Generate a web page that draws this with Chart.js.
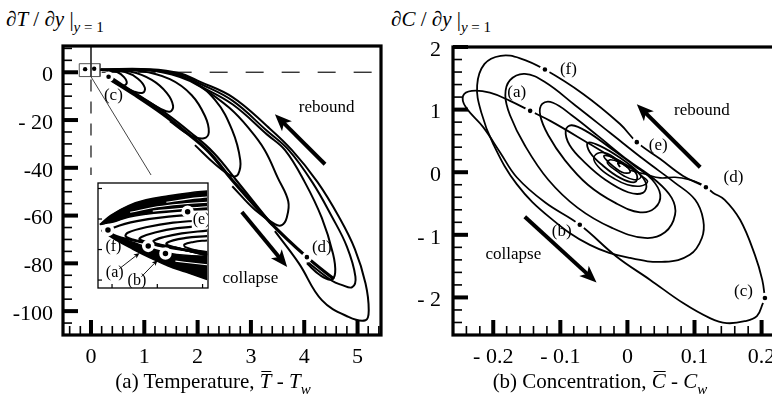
<!DOCTYPE html>
<html>
<head>
<meta charset="utf-8">
<script src="https://cdn.jsdelivr.net/npm/chart.js@4.4.0/dist/chart.umd.min.js"></script>
<style>
  html, body { margin: 0; padding: 0; background: #fff; }
  body { width: 772px; height: 398px; position: relative; overflow: hidden;
         font-family: "Liberation Serif", "Times New Roman", serif; color: #000; }
  .pane { position: absolute; }
  #tempPane { left: 0; top: 0; width: 390px; height: 398px; }
  #concPane { left: 386px; top: 0; width: 400px; height: 398px; }
  #insetPane { left: 90px; top: 175px; width: 126px; height: 121px; background: #fff; }
  .ylab { position: absolute; top: 7px; font-size: 21px; white-space: nowrap; }
  .cap { position: absolute; top: 369px; font-size: 21px; line-height: 24px; white-space: nowrap; transform: translateX(-50%); }
  sub { font-size: 15px; vertical-align: -6px; line-height: 0; }
  .ov { position: relative; }
  .ov::before { content: ''; position: absolute; left: 2px; right: 0; top: 2px; border-top: 1.4px solid #000; }
</style>
</head>
<body>
<div class="ylab" style="left:6px">&#8706;<i>T</i> / &#8706;<i>y</i> |<sub><i>y</i> = 1</sub></div>
<div class="ylab" style="left:391px">&#8706;<i>C</i> / &#8706;<i>y</i> |<sub><i>y</i> = 1</sub></div>
<div class="pane" id="tempPane"><canvas id="tempChart"></canvas></div>
<div class="pane" id="concPane"><canvas id="concChart"></canvas></div>
<div class="pane" id="insetPane"><canvas id="insetChart"></canvas></div>
<div class="cap" style="left:213px">(a) Temperature, <i class="ov">T</i> - <i>T</i><sub><i>w</i></sub></div>
<div class="cap" style="left:600px">(b) Concentration, <i class="ov">C</i> - <i>C</i><sub><i>w</i></sub></div>
<script>
// axis ticks
const tempXTicks = [0, 1, 2, 3, 4, 5];
const tempXLabels = ['0', '1', '2', '3', '4', '5'];
const tempYTicks = [0, -20, -40, -60, -80, -100];
const tempYLabels = ['0', '- 20', '-40', '-60', '-80', '-100'];
const concXTicks = [-0.2, -0.1, 0, 0.1, 0.2];
const concXLabels = ['- 0.2', '- 0.1', '0', '0.1', '0.2'];
const concYTicks = [2, 1, 0, -1, -2];
const concYLabels = ['2', '1', '0', '- 1', '- 2'];

// (a) temperature: wall gradient vs mean temperature, loops growing outwards
const tempLower = [[0.30, -2.1], [0.83, -9.6], [1.33, -17.2], [1.76, -24.7], [2.20, -33.1], [2.65, -45.2], [3.36, -62.8], [4.05, -77.4], [4.56, -86.6]];
const tempLower2 = [[0.40, -2.5], [0.92, -10.0], [1.43, -17.6], [1.86, -25.1], [2.29, -33.5], [2.74, -45.6], [3.40, -64.0]];
const loopA = [[0.30, 0.8], [0.49, 0.1], [0.62, -2.0], [0.67, -4.6], [0.58, -5.6], [0.45, -4.3], [0.30, -2.1]];
const loopB = [[0.30, 0.8], [0.64, 0.1], [0.88, -2.7], [1.01, -6.5], [0.97, -8.6], [0.80, -8.0], [0.60, -5.8], [0.30, -2.1]];
const loopC = [[0.25, 0.9], [0.75, 0.2], [1.14, -3.2], [1.42, -8.6], [1.54, -14.0], [1.48, -16.5], [1.30, -15.2], [1.05, -12.0], [0.60, -5.8]];
const loopD = [[0.20, 0.9], [0.92, 0.5], [1.48, -2.9], [1.89, -9.6], [2.14, -18.4], [2.21, -25.1], [2.12, -27.6], [1.86, -26.4], [1.48, -20.5]];
const loopE = [[0.18, 1.0], [1.11, 0.8], [1.86, -3.3], [2.33, -11.7], [2.65, -24.3], [2.80, -36.8], [2.76, -42.7], [2.65, -43.5], [2.33, -38.5], [1.95, -30.5]];
const loopF = [[0.18, 1.0], [1.11, 0.7], [1.67, -2.0], [2.05, -6.0], [2.60, -15.0], [2.98, -24.0], [3.26, -32.6], [3.50, -44.0], [3.70, -54.0], [3.67, -61.0], [3.58, -64.0], [3.45, -63.6], [3.08, -57.7], [2.65, -47.7]];
const loopG = [[0.18, 1.1], [1.11, 0.9], [1.67, -1.3], [2.05, -5.8], [2.66, -13.5], [3.30, -26.0], [3.64, -32.6], [4.01, -46.0], [4.33, -61.0], [4.54, -76.0], [4.58, -84.0], [4.50, -86.8], [4.30, -85.0], [4.05, -80.0]];
const loopH = [[0.18, 1.2], [1.11, 1.1], [1.67, -0.8], [2.05, -4.8], [2.66, -12.0], [3.30, -24.5], [3.71, -32.6], [4.15, -46.0], [4.52, -60.5], [4.80, -73.0], [4.96, -85.6], [4.90, -90.0], [4.70, -89.0], [4.52, -87.3], [4.02, -78.7]];
const loopI = [[0.18, 1.3], [1.11, 1.3], [1.67, -0.4], [2.05, -4.0], [2.66, -10.5], [3.30, -22.5], [3.77, -32.6], [4.25, -46.0], [4.65, -60.5], [4.95, -74.0], [5.15, -88.4], [5.21, -99.6], [5.15, -103.8], [4.83, -102.4], [4.33, -95.4], [3.90, -80.0], [3.45, -66.5]];
const tempZeroLine = [[0.2, 0], [5.44, 0]];
const tempAxisSolid = [[0, 11], [0, -1.8]];
const tempAxisDash = [[0, -3], [0, -43.5]];
const zoomBox = [[-0.22, 3.6], [0.17, 3.6], [0.17, -1.8], [-0.22, -1.8], [-0.22, 3.6]];
const zoomLeader = [[-0.01, -1.5], [1.14, -43.5]];
const tempMarks = [[0.33, -1.9], [4.05, -77.4]];
const zoomDots = [[-0.11, 1.3], [0.06, 1.5]];

// inset: close-up of the start of the run
const insetXTicks = [0, 1, 2];
const insetYTicks = [1, 0, -1, -2];
const bandTop = [[-0.27, -0.18], [-0.03, 0.12], [0.36, 0.44], [0.75, 0.63], [1.25, 0.76], [1.73, 0.86], [2.10, 0.92]];
const bandBottom = [[-0.27, -0.18], [0.03, -0.10], [0.36, 0.06], [0.75, 0.16], [1.25, 0.23], [1.73, 0.28], [2.10, 0.31]];
const bandGap1 = [[0.40, 0.22], [1.00, 0.40], [1.60, 0.50], [2.10, 0.55]];
const bandGap2 = [[0.90, 0.26], [1.50, 0.34], [2.10, 0.40]];
const bandGap3 = [[1.20, 0.55], [1.70, 0.66], [2.10, 0.72]];
const wedgeTop = [[-0.23, -0.36], [0.06, -0.56], [0.46, -0.76], [0.85, -0.96], [1.24, -1.11], [1.63, -1.19], [2.10, -1.22]];
const wedgeBottom = [[-0.23, -0.38], [0.06, -0.67], [0.46, -0.99], [0.85, -1.28], [1.24, -1.54], [1.63, -1.74], [2.10, -1.98]];
const wedgeGap = [[1.40, -1.38], [1.80, -1.45], [2.10, -1.50]];
const insetC1 = [[2.10, 0.16], [1.25, 0.08], [0.55, -0.07], [0.06, -0.27], [-0.05, -0.41], [0.10, -0.56], [0.65, -0.76], [1.44, -0.96], [2.10, -1.08]];
const insetC2 = [[2.10, -0.04], [1.35, -0.12], [0.75, -0.27], [0.36, -0.44], [0.30, -0.56], [0.46, -0.67], [1.05, -0.88], [2.10, -1.14]];
const insetC3 = [[2.10, -0.21], [1.44, -0.30], [0.95, -0.44], [0.65, -0.59], [0.61, -0.67], [0.85, -0.79], [1.44, -0.96], [2.10, -1.16]];
const insetC4 = [[2.10, -0.38], [1.54, -0.47], [1.15, -0.59], [0.91, -0.73], [1.01, -0.82], [1.54, -0.99], [2.10, -1.19]];
const insetC5 = [[2.10, -0.56], [1.63, -0.62], [1.35, -0.70], [1.20, -0.82], [1.40, -0.93], [2.10, -1.19]];
const insetC6 = [[2.10, -0.70], [1.80, -0.75], [1.60, -0.83], [1.62, -0.92], [2.10, -1.12]];
const insetMarks = [[-0.09, -0.36], [0.80, -0.88], [1.18, -1.13], [1.67, 0.24]];

// (b) concentration: one trajectory spiralling into the origin
const concOut = [[-0.014, 0.18], [-0.056, 0.45], [-0.115, 0.82], [-0.145, 0.98], [-0.175, 1.14], [-0.205, 1.27], [-0.232, 1.30], [-0.245, 1.22], [-0.241, 1.04], [-0.215, 0.72], [-0.190, 0.32], [-0.165, -0.08], [-0.123, -0.48], [-0.071, -0.84], [-0.016, -1.35], [0.034, -1.72], [0.083, -2.09], [0.123, -2.33], [0.148, -2.41], [0.175, -2.38], [0.193, -2.30], [0.202, -2.09], [0.205, -2.01]];
const concBack = [[0.205, -2.01], [0.201, -1.72], [0.190, -1.32], [0.168, -0.76], [0.145, -0.44], [0.128, -0.33], [0.117, -0.24], [0.083, -0.06], [0.049, 0.21], [0.014, 0.48], [-0.011, 0.77], [-0.066, 1.25], [-0.123, 1.64], [-0.160, 1.82], [-0.189, 1.86], [-0.213, 1.73], [-0.224, 1.39], [-0.218, 0.96], [-0.200, 0.45], [-0.165, -0.19], [-0.115, -0.73], [-0.056, -1.16], [0.004, -1.37], [0.056, -1.43], [0.093, -1.32], [0.111, -1.05], [0.113, -0.76], [0.101, -0.44], [0.071, -0.17], [0.026, 0.19], [-0.026, 0.63], [-0.078, 1.07], [-0.123, 1.44], [-0.153, 1.57], [-0.175, 1.47], [-0.182, 1.23], [-0.175, 0.91], [-0.153, 0.43], [-0.118, -0.12], [-0.074, -0.57], [-0.023, -0.89], [0.026, -1.05], [0.056, -0.96], [0.071, -0.68], [0.066, -0.41], [0.041, -0.12], [0.001, 0.19], [-0.044, 0.58], [-0.083, 0.91], [-0.111, 1.11], [-0.127, 1.09], [-0.130, 0.91], [-0.118, 0.59], [-0.093, 0.19], [-0.059, -0.20], [-0.018, -0.49], [0.019, -0.64], [0.041, -0.57], [0.049, -0.36], [0.037, -0.12], [0.011, 0.10], [-0.026, 0.39], [-0.059, 0.64], [-0.083, 0.75], [-0.092, 0.67], [-0.086, 0.43], [-0.063, 0.15], [-0.033, -0.12], [0.001, -0.32], [0.023, -0.33], [0.028, -0.19], [0.016, 0.00], [-0.011, 0.23], [-0.041, 0.42], [-0.059, 0.47], [-0.056, 0.32], [-0.036, 0.10], [-0.011, -0.09], [0.011, -0.16], [0.014, -0.04], [0.001, 0.10], [-0.023, 0.24], [-0.035, 0.26], [-0.027, 0.15], [-0.008, 0.00], [0.004, 0.00], [-0.002, 0.10], [-0.014, 0.15], [-0.011, 0.08]];
const concCore = [[0.02, -0.05], [0.03, -0.15], [0.02, -0.22], [0.0, -0.20], [-0.02, -0.10], [-0.04, 0.05], [-0.05, 0.20], [-0.045, 0.30], [-0.03, 0.30], [-0.015, 0.20], [0.0, 0.10], [0.015, 0.0], [0.02, -0.08], [0.01, -0.12], [-0.005, -0.06], [-0.02, 0.05], [-0.03, 0.15], [-0.025, 0.20], [-0.01, 0.15], [0.0, 0.08]];
const concTail = [[0.004, 0.03], [0.026, -0.03], [0.049, -0.09], [0.071, -0.08], [0.093, -0.12], [0.108, -0.18], [0.117, -0.24]];
const concMarks = [[-0.145, 0.98], [-0.071, -0.84], [0.205, -2.01], [0.117, -0.24], [0.014, 0.48], [-0.123, 1.64]];

const pts = arr => arr.map(([x, y]) => ({ x, y }));
const serif = '"Liberation Serif", "Times New Roman", serif';

function curve(arr, w, extra) {
  return Object.assign({ data: pts(arr), borderColor: '#000', borderWidth: w, pointRadius: 0,
    tension: 0.4, fill: false, order: 2 }, extra || {});
}
function marks(arr, r, ring) {
  return { data: pts(arr), showLine: false, pointRadius: r, pointBackgroundColor: '#000',
    pointBorderColor: '#fff', pointBorderWidth: ring, order: 0 };
}
function axis(min, max, ticks, labels, size, pad, dir, shift) {
  return {
    type: 'linear', min, max,
    grid: { display: false, drawTicks: false },
    border: { display: false },
    afterBuildTicks: s => { s.ticks = ticks.map(v => ({ value: v })); },
    afterFit: s => { if (dir === 'x') s.height = size; else s.width = size; },
    ticks: { padding: pad, autoSkip: false, maxRotation: 0, color: '#000', labelOffset: shift || 0,
      font: { family: serif, size: 22 }, callback: (v, i) => labels[i] }
  };
}

// frame, inward tick marks, arrows and point labels
const frameTicks = {
  id: 'frameTicks',
  afterDatasetsDraw(chart, args, o) {
    const { ctx, chartArea: a } = chart;
    const xs = chart.scales.x, ys = chart.scales.y;
    ctx.save();
    ctx.fillStyle = '#000';
    ctx.strokeStyle = '#000';
    const xMajor = o.xTicks, yMajor = o.yTicks;
    const isMajor = (list, v) => list.some(t => Math.abs(t - v) < 1e-6);
    const minor = (sc, step, fn, list) => {
      if (!step) return;
      for (let k = Math.ceil(sc.min / step - 1e-9); k * step <= sc.max + 1e-9; k++) {
        const v = k * step;
        if (!isMajor(list, v)) fn(sc.getPixelForValue(v));
      }
    };
    xMajor.forEach(v => { const p = xs.getPixelForValue(v); ctx.fillRect(p - o.majorW / 2, a.bottom - o.majorLen, o.majorW, o.majorLen); });
    yMajor.forEach(v => { const p = ys.getPixelForValue(v); ctx.fillRect(a.left, p - o.majorW / 2, o.majorLen, o.majorW); });
    minor(xs, o.xMinor, p => ctx.fillRect(p - o.minorW / 2, a.bottom - o.minorLen, o.minorW, o.minorLen), xMajor);
    minor(ys, o.yMinor, p => ctx.fillRect(a.left, p - o.minorW / 2, o.minorLen, o.minorW), yMajor);
    ctx.lineWidth = o.frame;
    ctx.strokeRect(a.left, a.top, a.width, a.height);

    ctx.beginPath();
    ctx.rect(a.left, a.top, a.width, a.height);
    ctx.clip();
    (o.arrows || []).forEach(ar => {
      const x1 = xs.getPixelForValue(ar.from[0]), y1 = ys.getPixelForValue(ar.from[1]);
      const x2 = xs.getPixelForValue(ar.to[0]), y2 = ys.getPixelForValue(ar.to[1]);
      const t = Math.atan2(y2 - y1, x2 - x1), c = Math.cos(t), s = Math.sin(t);
      const bx = x2 - ar.head * c, by = y2 - ar.head * s;
      ctx.lineWidth = ar.width;
      ctx.beginPath(); ctx.moveTo(x1, y1); ctx.lineTo(x2 - ar.head * 0.7 * c, y2 - ar.head * 0.7 * s); ctx.stroke();
      ctx.beginPath();
      ctx.moveTo(x2, y2);
      ctx.lineTo(bx + ar.half * s, by - ar.half * c);
      ctx.lineTo(x2 - ar.head * 0.75 * c, y2 - ar.head * 0.75 * s);
      ctx.lineTo(bx - ar.half * s, by + ar.half * c);
      ctx.closePath(); ctx.fill();
    });
    (o.labels || []).forEach(l => {
      const px = xs.getPixelForValue(l.at[0]), py = ys.getPixelForValue(l.at[1]);
      ctx.font = `${l.size}px ${serif}`;
      ctx.textAlign = 'center';
      ctx.textBaseline = 'middle';
      if (l.bg) {
        const w = ctx.measureText(l.text).width;
        ctx.fillStyle = '#fff';
        ctx.fillRect(px - w / 2 - 1, py - l.size / 2 - 1, w + 2, l.size + 2);
      }
      ctx.fillStyle = '#000';
      ctx.fillText(l.text, px, py);
    });
    ctx.restore();
  }
};

const base = {
  responsive: true, maintainAspectRatio: false, animation: false, events: [],
  plugins: { legend: { display: false }, tooltip: { enabled: false } }
};

new Chart(document.getElementById('tempChart'), {
  type: 'line',
  data: { datasets: [
    marks(tempMarks, 3.8, 3),
    { data: pts(zoomDots), showLine: false, pointRadius: 2.2, pointBackgroundColor: '#000', pointBorderWidth: 0, order: 0 },
    curve(tempLower, 3.2), curve(tempLower2, 2.2),
    curve(loopA, 2), curve(loopB, 2), curve(loopC, 2), curve(loopD, 2), curve(loopE, 2),
    curve(loopF, 2), curve(loopG, 2), curve(loopH, 2), curve(loopI, 2),
    curve(tempZeroLine, 1.4, { tension: 0, borderColor: '#333', borderDash: [18, 18], order: 3 }),
    curve(tempAxisSolid, 1, { tension: 0, borderColor: '#333', order: 3 }),
    curve(tempAxisDash, 1.4, { tension: 0, borderColor: '#333', borderDash: [12, 10], order: 3 }),
    curve(zoomBox, 1, { tension: 0, borderColor: '#555', order: 3 }),
    curve(zoomLeader, 1, { tension: 0, borderColor: '#444', order: 3 })
  ] },
  options: Object.assign({}, base, {
    layout: { padding: { left: 0, top: 46, right: 9, bottom: 29 } },
    scales: {
      x: axis(-0.525, 5.44, tempXTicks, tempXLabels, 34, 9, 'x'),
      y: axis(-110, 11, tempYTicks, tempYLabels, 63, 10, 'y', 3)
    },
    plugins: Object.assign({}, base.plugins, {
      frameTicks: {
        xTicks: tempXTicks, yTicks: tempYTicks, xMinor: 0.2, yMinor: 5,
        majorLen: 15, majorW: 4, minorLen: 9, minorW: 1.6, frame: 3.2,
        arrows: [
          { from: [4.39, -38.5], to: [3.45, -17.6], width: 4, head: 17, half: 7 },
          { from: [2.83, -58.5], to: [3.68, -81.5], width: 4, head: 17, half: 7 }
        ],
        labels: [
          { text: '(c)', at: [0.42, -9.9], size: 17 },
          { text: '(d)', at: [4.33, -73.5], size: 17 },
          { text: 'rebound', at: [4.42, -14.8], size: 17 },
          { text: 'collapse', at: [2.99, -86.3], size: 17 }
        ]
      }
    })
  }),
  plugins: [frameTicks]
});

new Chart(document.getElementById('insetChart'), {
  type: 'line',
  data: { datasets: [
    marks(insetMarks, 4.5, 3.5),
    curve(bandGap1, 1.1, { borderColor: '#fff', order: 1 }),
    curve(bandGap2, 1.1, { borderColor: '#fff', order: 1 }),
    curve(bandGap3, 1.1, { borderColor: '#fff', order: 1 }),
    curve(wedgeGap, 1.1, { borderColor: '#fff', order: 1 }),
    curve(bandTop, 1.5, { fill: '+1', backgroundColor: '#000', order: 3 }),
    curve(bandBottom, 1.5, { order: 3 }),
    curve(wedgeTop, 1.5, { fill: '+1', backgroundColor: '#000', order: 3 }),
    curve(wedgeBottom, 1.5, { order: 3 }),
    curve(insetC1, 2.2), curve(insetC2, 2.2), curve(insetC3, 2.2), curve(insetC4, 2.2), curve(insetC5, 2.2), curve(insetC6, 2)
  ] },
  options: Object.assign({}, base, {
    layout: { padding: 1 },
    scales: {
      x: { type: 'linear', min: -0.31, max: 2.12, display: false },
      y: { type: 'linear', min: -2.26, max: 1.18, display: false }
    },
    plugins: Object.assign({}, base.plugins, {
      frameTicks: {
        xTicks: insetXTicks, yTicks: insetYTicks, xMinor: 0, yMinor: 0,
        majorLen: 4, majorW: 1.2, minorLen: 0, minorW: 0, frame: 1.3,
        arrows: [
          { from: [0.16, -1.63], to: [0.61, -1.11], width: 0.9, head: 6, half: 2.5 },
          { from: [0.65, -1.89], to: [1.01, -1.34], width: 0.9, head: 6, half: 2.5 }
        ],
        labels: [
          { text: '(e)', at: [1.98, -0.02], size: 16, bg: true },
          { text: '(f)', at: [0.03, -0.90], size: 16 },
          { text: '(a)', at: [0.06, -1.77], size: 16 },
          { text: '(b)', at: [0.55, -2.03], size: 16 }
        ]
      }
    })
  }),
  plugins: [frameTicks]
});

new Chart(document.getElementById('concChart'), {
  type: 'line',
  data: { datasets: [
    marks(concMarks, 3.8, 3),
    curve(concOut, 1.8), curve(concBack, 1.8), curve(concCore, 1.6), curve(concTail, 1.6)
  ] },
  options: Object.assign({}, base, {
    layout: { padding: { left: 0, top: 47, right: 11, bottom: 29 } },
    scales: {
      x: axis(-0.26, 0.22, concXTicks, concXLabels, 34, 9, 'x'),
      y: axis(-2.6, 2.0, concYTicks, concYLabels, 67, 12, 'y', 3)
    },
    plugins: Object.assign({}, base.plugins, {
      frameTicks: {
        xTicks: concXTicks, yTicks: concYTicks, xMinor: 0.02, yMinor: 0.2,
        majorLen: 15, majorW: 4, minorLen: 9, minorW: 1.6, frame: 3.2,
        arrows: [
          { from: [0.1085, 0.08], to: [0.014, 1.085], width: 4, head: 17, half: 7 },
          { from: [-0.153, -0.71], to: [-0.046, -1.76], width: 4, head: 17, half: 7 }
        ],
        labels: [
          { text: '(f)', at: [-0.088, 1.64], size: 17 },
          { text: '(a)', at: [-0.165, 1.27], size: 17 },
          { text: '(e)', at: [0.046, 0.42], size: 17 },
          { text: '(d)', at: [0.158, -0.08], size: 17 },
          { text: '(b)', at: [-0.098, -0.94], size: 17 },
          { text: '(c)', at: [0.173, -1.90], size: 17 },
          { text: 'rebound', at: [0.111, 0.98], size: 17 },
          { text: 'collapse', at: [-0.17, -1.31], size: 17 }
        ]
      }
    })
  }),
  plugins: [frameTicks]
});
</script>
</body>
</html>
